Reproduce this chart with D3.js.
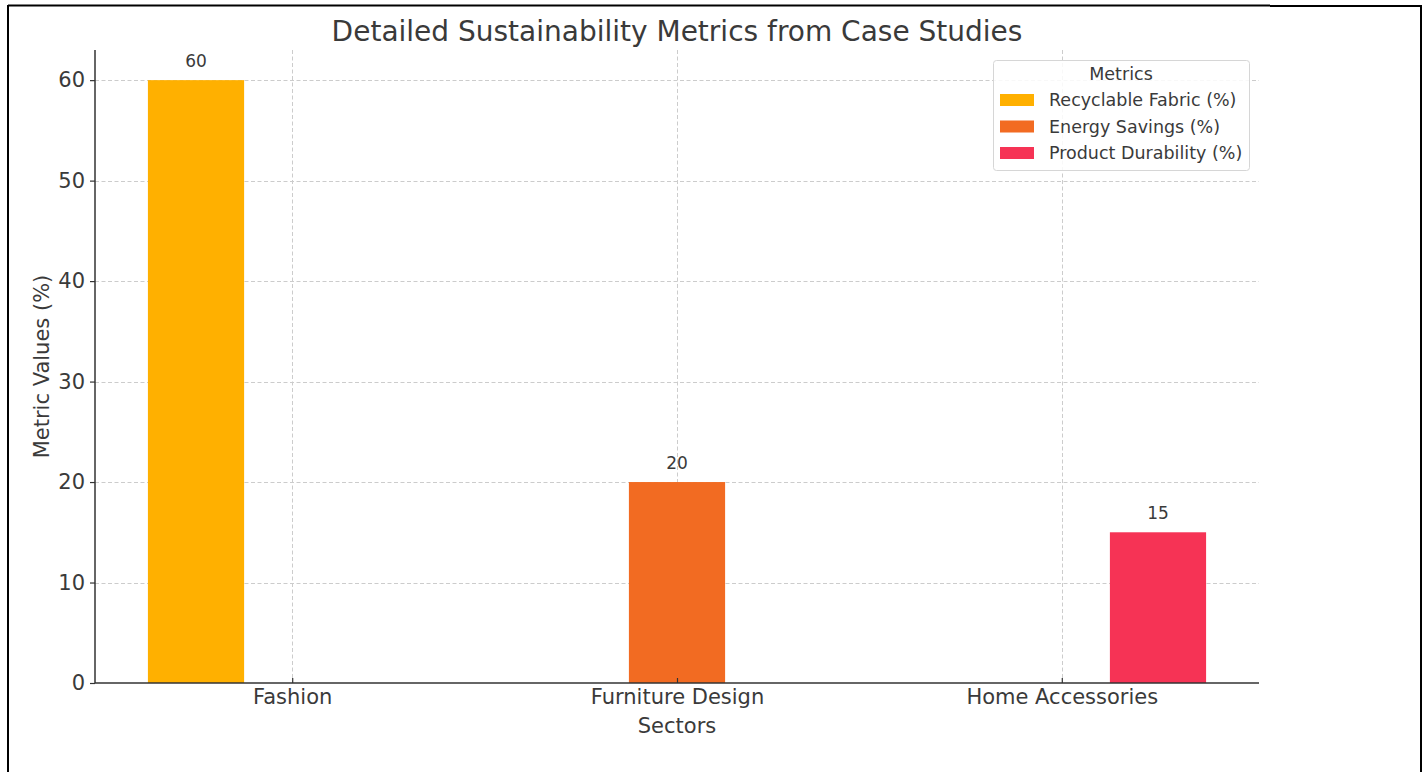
<!DOCTYPE html>
<html>
<head>
<meta charset="utf-8">
<script src="https://cdn.jsdelivr.net/npm/d3@7"></script>
<style>
  html, body { margin: 0; padding: 0; background: #fff; }
  svg { display: block; font-family: "DejaVu Sans", sans-serif; }
</style>
</head>
<body>
<svg id="chart" width="1427" height="772"></svg>
<script>
// Sectors on the x axis
const sectors = ["Fashion", "Furniture Design", "Home Accessories"];
// Metric series: one value per sector (0 where the metric was not reported)
const metricNames = ["Recyclable Fabric (%)", "Energy Savings (%)", "Product Durability (%)"];
const recyclableFabric = [60, 0, 0];
const energySavings = [0, 20, 0];
const productDurability = [0, 0, 15];
const metricColors = ["#FFB000", "#F26B22", "#F63355"];
const yTicks = [0, 10, 20, 30, 40, 50, 60];

const series = [recyclableFabric, energySavings, productDurability];

const svg = d3.select("#chart");
const textColor = "#3a3a3a";

// Frame lines around the figure
svg.append("line").attr("x1", 8).attr("x2", 1270).attr("y1", 5.5).attr("y2", 5.5)
  .attr("stroke", "#000").attr("stroke-width", 2);
svg.append("line").attr("x1", 1270).attr("x2", 1422).attr("y1", 6).attr("y2", 6)
  .attr("stroke", "#000").attr("stroke-width", 2);
svg.append("line").attr("x1", 8).attr("x2", 8).attr("y1", 5).attr("y2", 772)
  .attr("stroke", "#000").attr("stroke-width", 2);
svg.append("line").attr("x1", 1421).attr("x2", 1421).attr("y1", 5).attr("y2", 772)
  .attr("stroke", "#000").attr("stroke-width", 2);

const plot = { left: 95, right: 1259, top: 50, bottom: 683 };
const barWidth = 0.25;

// Linear x scale in category units, with matplotlib-style padding
const x = d3.scaleLinear().domain([-0.5125, 2.5125]).range([plot.left, plot.right]);
const y = d3.scaleLinear().domain([0, 63]).range([plot.bottom, plot.top]);

// Grid
const grid = svg.append("g").attr("stroke", "#cccccc").attr("stroke-width", 1)
  .attr("stroke-dasharray", "4,2.5");
yTicks.forEach(t => {
  if (t === 0) return;
  grid.append("line").attr("x1", plot.left).attr("x2", plot.right)
    .attr("y1", Math.round(y(t)) + 0.5).attr("y2", Math.round(y(t)) + 0.5);
});
sectors.forEach((s, i) => {
  grid.append("line").attr("x1", Math.round(x(i)) + 0.5).attr("x2", Math.round(x(i)) + 0.5)
    .attr("y1", plot.top).attr("y2", plot.bottom);
});

// Bars
series.forEach((vals, k) => {
  const off = (k - 1) * barWidth;
  const g = svg.append("g");
  vals.forEach((v, i) => {
    if (v === 0) return;
    const x0 = x(i + off - barWidth / 2), x1 = x(i + off + barWidth / 2);
    g.append("rect").attr("x", x0).attr("y", y(v))
      .attr("width", x1 - x0).attr("height", y(0) - y(v))
      .attr("fill", metricColors[k]);
    g.append("text").attr("x", (x0 + x1) / 2).attr("y", y(v) - 13)
      .attr("text-anchor", "middle").attr("font-size", 17).attr("fill", textColor)
      .text(v);
  });
});

// Axes
const yAxis = d3.axisLeft(y).tickValues(yTicks).tickSize(5).tickPadding(5);
const yg = svg.append("g").attr("transform", `translate(${plot.left},0)`).call(yAxis);
yg.select(".domain").attr("stroke", "#333").attr("stroke-width", 1.5)
  .attr("d", `M0,${plot.top}V${plot.bottom}`);
yg.selectAll(".tick line").attr("stroke", "#333").attr("stroke-width", 1.2);
yg.selectAll(".tick text").attr("font-size", 21).attr("fill", textColor)
  .attr("font-family", "DejaVu Sans");

const xAxis = d3.axisBottom(x).tickValues(d3.range(sectors.length))
  .tickFormat(i => sectors[i]).tickSize(5).tickPadding(1);
const xg = svg.append("g").attr("transform", `translate(0,${plot.bottom})`).call(xAxis);
xg.select(".domain").attr("stroke", "#333").attr("stroke-width", 1.5)
  .attr("d", `M${plot.left},0H${plot.right}`);
xg.selectAll(".tick line").attr("stroke", "#333").attr("stroke-width", 1.2).attr("y1", -5).attr("y2", 0);
xg.selectAll(".tick text").attr("font-size", 21).attr("fill", textColor)
  .attr("font-family", "DejaVu Sans");

// Titles
svg.append("text").attr("x", (plot.left + plot.right) / 2).attr("y", 41)
  .attr("text-anchor", "middle").attr("font-size", 28).attr("fill", textColor)
  .text("Detailed Sustainability Metrics from Case Studies");
svg.append("text").attr("x", (plot.left + plot.right) / 2).attr("y", 733)
  .attr("text-anchor", "middle").attr("font-size", 21).attr("fill", textColor)
  .text("Sectors");
svg.append("text").attr("transform", `translate(49,${(plot.top + plot.bottom) / 2}) rotate(-90)`)
  .attr("text-anchor", "middle").attr("font-size", 21).attr("fill", textColor)
  .text("Metric Values (%)");

// Legend
const lg = svg.append("g").attr("transform", "translate(993,60)");
lg.append("rect").attr("x", 0.5).attr("y", 0.5).attr("width", 256).attr("height", 110)
  .attr("rx", 3).attr("fill", "#fff").attr("fill-opacity", 0.85)
  .attr("stroke", "#d6d6d6").attr("stroke-width", 1);
lg.append("text").attr("x", 128).attr("y", 20).attr("text-anchor", "middle")
  .attr("font-size", 17.5).attr("fill", textColor).text("Metrics");
metricNames.forEach((name, k) => {
  const yy = 40 + k * 26.5;
  lg.append("rect").attr("x", 7).attr("y", yy - 6).attr("width", 34).attr("height", 12)
    .attr("fill", metricColors[k]);
  lg.append("text").attr("x", 56).attr("y", yy + 6).attr("font-size", 17.5)
    .attr("fill", textColor).text(name);
});
</script>
</body>
</html>
